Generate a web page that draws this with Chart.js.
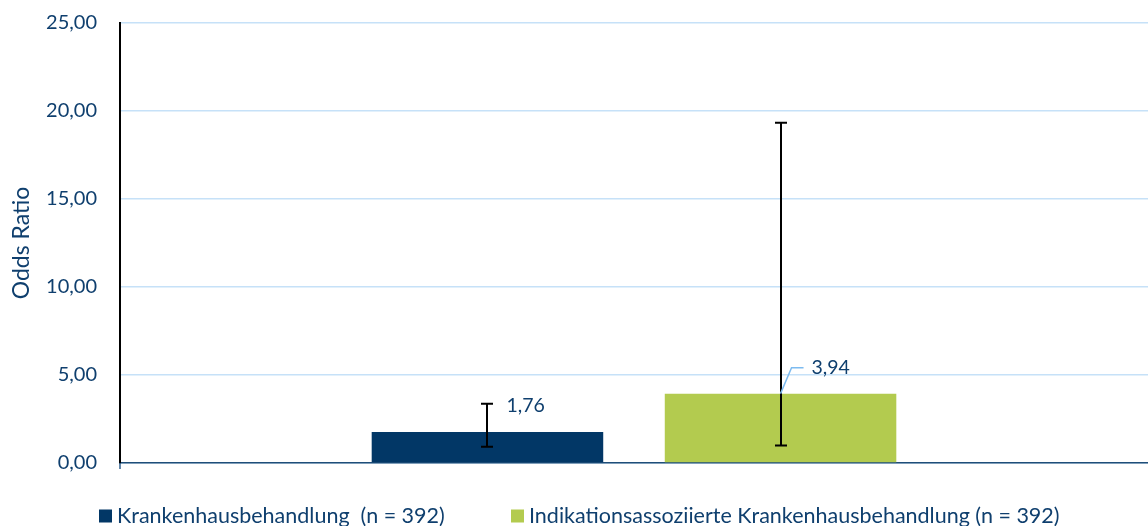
<!DOCTYPE html>
<html><head><meta charset="utf-8">
<script src="https://cdn.jsdelivr.net/npm/chart.js@4.4.1/dist/chart.umd.min.js"></script>
<style>html,body{margin:0;padding:0;background:#fff}#wrap{width:1148px;height:526px;position:relative}</style>
</head><body><div id="wrap"><canvas id="c" width="1148" height="526"></canvas></div>
<script>
// ---- data ----
const categories = [''];
const seriesNames = ['Krankenhausbehandlung  (n = 392)', 'Indikationsassoziierte Krankenhausbehandlung (n = 392)'];
const oddsRatios = [1.76, 3.94];
const ciLower = [0.93, 1.00];
const ciUpper = [3.37, 19.33];
const valueLabels = ['1,76', '3,94'];
const yTickValues = [0, 5, 10, 15, 20, 25];
const yTitle = 'Odds Ratio';

// ---- style ----
const FONT = 'Lato';
const TEXT = '#0F3F6E';
const colors = ['#023766', '#B3CB4F'];

const errorBarPlugin = {
  id: 'errorBars',
  afterDatasetsDraw(chart) {
    const ctx = chart.ctx, y = chart.scales.y;
    ctx.save();
    ctx.strokeStyle = '#000'; ctx.lineWidth = 2;
    chart.data.datasets.forEach((ds, i) => {
      const bar = chart.getDatasetMeta(i).data[0];
      const x = Math.round(bar.x);
      const yl = y.getPixelForValue(ciLower[i]), yu = y.getPixelForValue(ciUpper[i]);
      ctx.beginPath();
      ctx.moveTo(x, yl); ctx.lineTo(x, yu);
      ctx.moveTo(x - 6, yl); ctx.lineTo(x + 6, yl);
      ctx.moveTo(x - 6, yu); ctx.lineTo(x + 6, yu);
      ctx.stroke();
    });
    ctx.restore();
  }
};

const valueLabelPlugin = {
  id: 'valueLabels',
  afterDatasetsDraw(chart) {
    const ctx = chart.ctx, y = chart.scales.y;
    ctx.save();
    ctx.font = '19.5px ' + FONT; ctx.fillStyle = TEXT;
    ctx.textAlign = 'left'; ctx.textBaseline = 'middle';
    const b0 = chart.getDatasetMeta(0).data[0];
    ctx.fillText(valueLabels[0], b0.x + 19, y.getPixelForValue(ciUpper[0]) + 2);
    const b1 = chart.getDatasetMeta(1).data[0];
    ctx.strokeStyle = '#7DBBF0'; ctx.lineWidth = 1.5;
    ctx.beginPath();
    ctx.moveTo(b1.x, b1.y);
    ctx.lineTo(b1.x + 11, b1.y - 26);
    ctx.lineTo(b1.x + 23, b1.y - 26);
    ctx.stroke();
    ctx.fillText(valueLabels[1], b1.x + 31, b1.y - 26);
    ctx.restore();
  }
};

const legendPlugin = {
  id: 'customLegend',
  afterDraw(chart) {
    const ctx = chart.ctx;
    const starts = [99, 511];
    ctx.save();
    ctx.font = '21.5px ' + FONT; ctx.textBaseline = 'middle'; ctx.textAlign = 'left';
    chart.data.datasets.forEach((ds, i) => {
      const x = starts[i], yc = 516;
      ctx.fillStyle = ds.backgroundColor;
      ctx.fillRect(x, yc - 6.5, 13, 13);
      ctx.fillStyle = TEXT;
      ctx.fillText(ds.label, x + 18, yc);
    });
    ctx.restore();
  }
};

const axisTickPlugin = {
  id: 'axisTick',
  afterDraw(chart) {
    const ctx = chart.ctx, a = chart.chartArea;
    ctx.save();
    ctx.strokeStyle = '#2E5C8A'; ctx.lineWidth = 1.5;
    ctx.beginPath(); ctx.moveTo(a.left, a.bottom); ctx.lineTo(a.left, a.bottom + 6); ctx.stroke();
    ctx.restore();
  }
};

new Chart(document.getElementById('c'), {
  type: 'bar',
  data: {
    labels: categories,
    datasets: seriesNames.map((name, i) => ({
      label: name,
      data: [oddsRatios[i]],
      backgroundColor: colors[i],
      borderWidth: 0,
      categoryPercentage: 0.5702,
      barPercentage: 0.79
    }))
  },
  options: {
    responsive: false,
    animation: false,
    devicePixelRatio: 1,
    layout: { padding: { top: 23, bottom: 63, left: 0, right: -5 } },
    plugins: { legend: { display: false }, tooltip: { enabled: false } },
    scales: {
      x: {
        grid: { display: false },
        ticks: { display: false },
        border: { color: '#1F4E79', width: 1.5 },
        afterFit(s) { s.height = 0; }
      },
      y: {
        min: 0, max: 25,
        afterBuildTicks(s) { s.ticks = yTickValues.map(v => ({ value: v })); },
        afterFit(s) { s.width = 120; s.paddingTop = 0; s.paddingBottom = 0; },
        ticks: {
          padding: 23,
          color: TEXT,
          font: { family: FONT, size: 20 },
          callback: v => v.toFixed(2).replace('.', ',')
        },
        grid: { color: '#C6E1F8', lineWidth: 1.5, drawTicks: false },
        border: { color: '#000', width: 2 },
        title: {
          display: true, text: yTitle, color: TEXT,
          font: { family: FONT, size: 23 },
          padding: { top: 8, bottom: 0 }
        }
      }
    }
  },
  plugins: [errorBarPlugin, valueLabelPlugin, legendPlugin, axisTickPlugin]
});
</script></body></html>
